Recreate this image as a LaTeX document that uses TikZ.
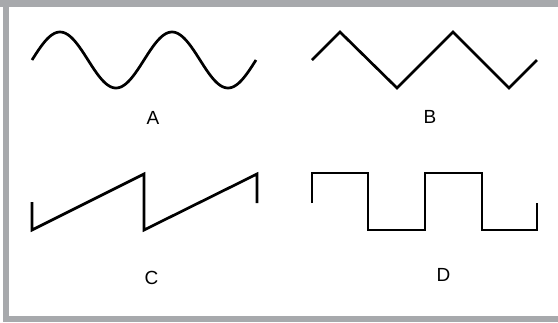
\documentclass[tikz,border=0pt]{standalone}
\usepackage{fontspec}
\setmainfont{Liberation Sans}
\usepackage{tikz}
\definecolor{framegray}{HTML}{A7A9AC}
\newcommand{\labelsize}{\fontsize{19}{23}\selectfont}
\tikzset{
  wave/.style={line width=2.7pt, black},
  wavelabel/.style={font=\labelsize, inner sep=0pt}
}

\begin{document}
\begin{tikzpicture}[x=1pt, y=-1pt]
    \useasboundingbox (0,0) rectangle (558,322);

    %frame
    \fill[framegray] (0,0) rectangle (558,7);
    \fill[framegray] (3,0) rectangle (9,322);
    \fill[framegray] (3,316) rectangle (558,322);

    %A sine
    \draw[wave] plot[domain=32:256, samples=120, smooth] (\x, {60 - 28*sin((\x-32)/112*360)});
    \node[wavelabel] (labA) at (153,117.5) {A};

    %B triangle
    \draw[wave] (312,60) -- (340,32) -- (397,88) -- (453,32) -- (509,88) -- (537,60);
    \node[wavelabel] (labB) at (430,117) {B};

    %C sawtooth
    \draw[wave] (32,202) -- (32,230) -- (144,174) -- (144,230) -- (257,174) -- (257,203);
    \node[wavelabel] (labC) at (151.5,277.5) {C};

    %D square
    \draw[wave] (312,203) -- (312,173) -- (368,173) -- (368,230) -- (425,230) -- (425,173)
        -- (482,173) -- (482,230) -- (537,230) -- (537,203);
    \node[wavelabel] (labD) at (443.5,275) {D};
\end{tikzpicture}
\end{document}
